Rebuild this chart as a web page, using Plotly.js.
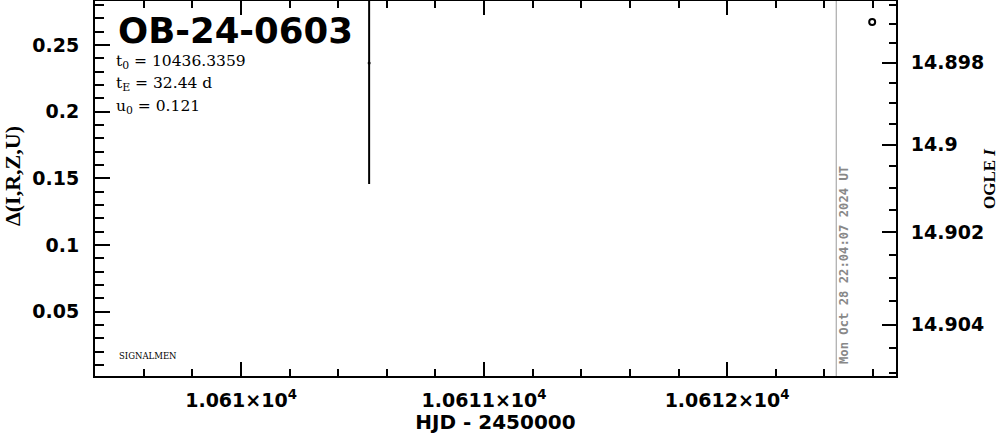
<!DOCTYPE html>
<html><head><meta charset="utf-8">
<script src="https://cdn.plot.ly/plotly-3.0.1.min.js"></script>
<style>html,body{margin:0;padding:0;background:#fff}#chart{width:999px;height:434px}</style>
</head><body><div id="chart"></div>
<script>
// --- data ---
const eventName = "OB-24-0603";
const paramLines = ["t<sub>0</sub> = 10436.3359", "t<sub>E</sub> = 32.44 d", "u<sub>0</sub> = 0.121"];
const surveyLabel = "SIGNALMEN";
const dateStamp = "Mon Oct 28 22:04:07 2024 UT";
const dateStampHJD = 10612.449;

const s1X = [10610.527];
const s1Y = [0.2365];
const s1Err = [0.0908];

const s2X = [10612.597];
const s2Y = [0.2672];

const xTickVals = [10610, 10611, 10612];
const xTickText = ["1.061×10<sup>4</sup>", "1.0611×10<sup>4</sup>", "1.0612×10<sup>4</sup>"];
const rightTickMags = [14.898, 14.9, 14.902, 14.904];
const rightTickText = ["14.898", "14.9", "14.902", "14.904"];

const xRange = [10609.399, 10612.695];
const yRange = [0.0017, 0.2830];

// magnitude -> Δ scale mapping for the right axis
function magToDelta(m) {
  const k = (m - 14.898) / 0.0005;
  return 0.23672 - 0.014835 * k - 0.00013521 * k * k + 6.225e-7 * k * k * k;
}
const rightMinorMags = [];
for (let k = -4; k <= 15; k++) rightMinorMags.push(14.898 + k * 0.0005);

const tickFont = {family: "DejaVu Sans", size: 19, color: "#000", weight: "bold"};

const traces = [
  {x: s1X, y: s1Y, type: "scatter", mode: "markers",
   marker: {color: "#000", size: 3},
   error_y: {type: "data", array: s1Err, visible: true, color: "#000", thickness: 2, width: 0},
   showlegend: false, hoverinfo: "skip"},
  {x: s2X, y: s2Y, type: "scatter", mode: "markers",
   marker: {color: "#000", size: 6, symbol: "circle-open", line: {width: 2, color: "#000"}},
   showlegend: false, hoverinfo: "skip"},
  {x: [xRange[0]], y: [yRange[0]], yaxis: "y2", type: "scatter", mode: "markers",
   marker: {opacity: 0}, showlegend: false, hoverinfo: "skip"}
];

const layout = {
  width: 999, height: 434,
  margin: {l: 95, r: 103, t: 1, b: 58},
  paper_bgcolor: "#fff", plot_bgcolor: "#fff",
  showlegend: false, hovermode: false,
  xaxis: {
    range: xRange, showgrid: false, zeroline: false,
    showline: true, linewidth: 2, linecolor: "#000", mirror: "ticks",
    ticks: "inside", ticklen: 14, tickwidth: 2, tickcolor: "#000",
    tickmode: "array", tickvals: xTickVals, ticktext: xTickText,
    minor: {tick0: 0, dtick: 0.2, ticks: "inside", ticklen: 7, tickwidth: 2, tickcolor: "#000"},
    tickfont: tickFont, ticklabelstandoff: 6,
    title: {text: "HJD - 2450000", font: {family: "DejaVu Sans", size: 20, color: "#000", weight: "bold"}, standoff: 6}
  },
  yaxis: {
    range: yRange, showgrid: false, zeroline: false,
    showline: true, linewidth: 2, linecolor: "#000", mirror: false,
    ticks: "inside", ticklen: 15, tickwidth: 2, tickcolor: "#000",
    tick0: 0, dtick: 0.05,
    minor: {tick0: 0, dtick: 0.01, ticks: "inside", ticklen: 9, tickwidth: 2, tickcolor: "#000"},
    tickfont: tickFont, ticklabelstandoff: 10
  },
  yaxis2: {
    overlaying: "y", side: "right", range: yRange,
    showgrid: false, zeroline: false,
    showline: true, linewidth: 2, linecolor: "#000",
    ticks: "inside", ticklen: 14, tickwidth: 2, tickcolor: "#000",
    tickmode: "array", tickvals: rightTickMags.map(magToDelta), ticktext: rightTickText,
    minor: {tickmode: "array", tickvals: rightMinorMags.map(magToDelta), ticks: "inside", ticklen: 7, tickwidth: 2, tickcolor: "#000"},
    tickfont: tickFont, ticklabelstandoff: 9
  },
  shapes: [
    {type: "line", xref: "x", yref: "paper", x0: dateStampHJD, x1: dateStampHJD, y0: 0, y1: 1,
     line: {color: "#999", width: 1}}
  ],
  annotations: [
    {text: eventName, xref: "paper", yref: "paper", x: 0.026, y: 0.922, xanchor: "left", yanchor: "middle",
     showarrow: false, font: {family: "DejaVu Sans", size: 35.5, color: "#000", weight: "bold"}},
    {text: paramLines[0], xref: "paper", yref: "paper", x: 0.024, y: 1 - 61 / 375, xanchor: "left", yanchor: "middle",
     showarrow: false, font: {family: "DejaVu Serif", size: 15.5, color: "#000"}},
    {text: paramLines[1], xref: "paper", yref: "paper", x: 0.024, y: 1 - 83 / 375, xanchor: "left", yanchor: "middle",
     showarrow: false, font: {family: "DejaVu Serif", size: 15.5, color: "#000"}},
    {text: paramLines[2], xref: "paper", yref: "paper", x: 0.024, y: 1 - 106 / 375, xanchor: "left", yanchor: "middle",
     showarrow: false, font: {family: "DejaVu Serif", size: 15.5, color: "#000"}},
    {text: surveyLabel, xref: "paper", yref: "paper", x: 0.0275, y: 1 - 355 / 375, xanchor: "left", yanchor: "middle",
     showarrow: false, font: {family: "DejaVu Serif", size: 8.5, color: "#000"}},
    {text: dateStamp, xref: "paper", yref: "paper", x: (844 - 95) / 801, y: 1 - 264 / 375, xanchor: "center", yanchor: "middle",
     textangle: -90, showarrow: false, font: {family: "DejaVu Sans Mono", size: 12.2, color: "#888", weight: "bold"}},
    {text: "Δ(I,R,Z,U)", xref: "paper", yref: "paper", x: (12 - 95) / 801, y: 1 - 175 / 375, xanchor: "center", yanchor: "middle",
     textangle: -90, showarrow: false, font: {family: "Liberation Serif", size: 22, color: "#000", weight: "bold"}},
    {text: "OGLE <i>I</i>", xref: "paper", yref: "paper", x: (989 - 95) / 801, y: 1 - 178 / 375, xanchor: "center", yanchor: "middle",
     textangle: -90, showarrow: false, font: {family: "Liberation Serif", size: 17, color: "#000", weight: "bold"}}
  ]
};

Plotly.newPlot("chart", traces, layout, {displayModeBar: false, staticPlot: true});
</script></body></html>
